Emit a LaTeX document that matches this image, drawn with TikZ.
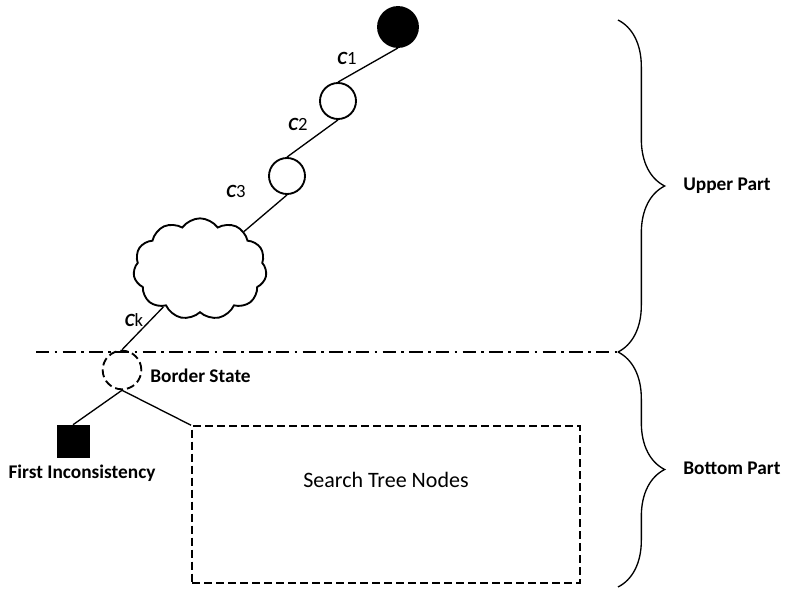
\documentclass[tikz,border=0pt]{standalone}
\usepackage{fontspec}
\setmainfont{Carlito}
\usetikzlibrary{shapes.symbols, decorations.pathreplacing, positioning}
\tikzset{
  state/.style = {circle, draw, line width=1.4pt, minimum size=27pt, inner sep=0pt},
  edge/.style = {line width=1pt},
  lbl/.style = {font=\fontsize{14.5}{16}\selectfont\bfseries, inner sep=0pt},
  clab/.style = {font=\fontsize{14}{16}\selectfont, inner sep=0pt},
  dsh/.style = {dash pattern=on 6pt off 3pt},
  part/.style = {decorate, decoration={brace, amplitude=35pt, aspect=0.5}, line width=1pt}
}
\newcommand{\cst}[1]{{\bfseries\itshape C}#1}

\begin{document}
\begin{tikzpicture}[x=0.75pt, y=-0.75pt]
\useasboundingbox (0,0) rectangle (801,589);
% the path down to the border
\node [state, fill=black, minimum size=30pt] (root) at (398,27) {};
\node [state] (s1) at (338,101) {};
\node [state] (s2) at (287,176) {};
\node [cloud, draw, line width=1.4pt, cloud puffs=11, cloud puff arc=110,
       minimum width=100pt, minimum height=76pt] (cl) at (200,269) {};
\node [state, dsh, minimum size=29pt] (border) at (122,370) {};
\node [draw, fill=black, minimum size=24pt, inner sep=0pt] (incons) at (73,441) {};
\node [draw, dsh, line width=1.4pt, minimum width=291pt, minimum height=117.5pt, inner sep=0pt] (box) at (386,504.5) {};

\draw [edge] (root.south) -- (s1.north);
\draw [edge] (s1.south) -- (s2.north);
\draw [edge] (s2.south) -- (cl);
\draw [edge] (cl) -- (border.north);
\draw [edge] (border.south) -- (incons.north);
\draw [edge] (border.south) -- (box.north west);

\node [clab] (c1) at (347,58) {\cst{1}};
\node [clab] (c2) at (298,124) {\cst{2}};
\node [clab] (c3) at (236,191) {\cst{3}};
\node [clab] (ck) at (134,320) {\cst{k}};
\node [lbl, anchor=west] (bl) at (150,376) {Border State};
\node [lbl] (fl) at (82,473) {First Inconsistency};
\node [font=\fontsize{16.5}{18}\selectfont] (tl) at (386,480) {Search Tree Nodes};

% split line and braces
\coordinate (split) at (618,352);
\draw [edge, dash pattern=on 10pt off 4pt on 2pt off 4pt] (36,352) -- (split);
\draw [part] (618,20) -- (split);
\draw [part] (split) -- (618,587);
\node [lbl, anchor=west] (up) at (683,186) {Upper Part};
\node [lbl, anchor=west] (bp) at (683,468) {Bottom Part};
\end{tikzpicture}
\end{document}
